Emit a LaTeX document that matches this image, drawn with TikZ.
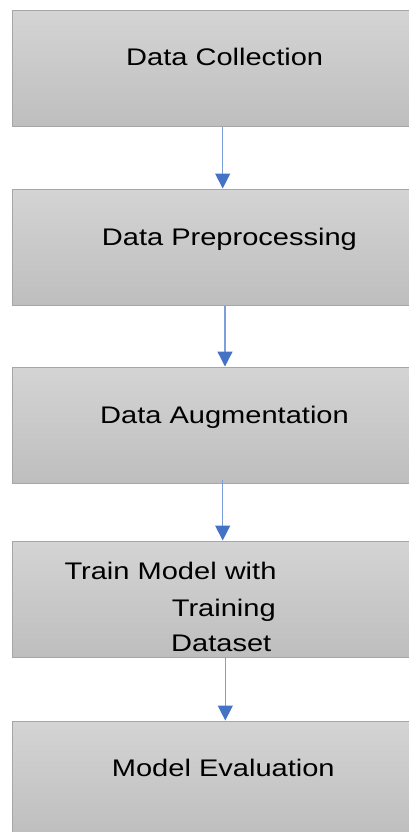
\documentclass[tikz,border=0pt]{standalone}
\usepackage{fontspec}
\newfontfamily\boxfont[FakeStretch=1.21]{Liberation Sans}
\usetikzlibrary{arrows.meta}
\definecolor{boxtop}{HTML}{D4D4D4}
\definecolor{boxbot}{HTML}{BEBEBE}
\definecolor{boxline}{HTML}{A6A6A6}
\definecolor{flowline}{HTML}{7C9FDC}
\definecolor{flowhead}{HTML}{4472C4}
\begin{document}
\begin{tikzpicture}[x=1pt, y=-1pt]
    \tikzset{box/.style={draw=boxline, line width=1pt, top color=boxtop, bottom color=boxbot,
        minimum width=423pt, minimum height=116pt, inner sep=0pt}};
    \tikzset{lbl/.style={font=\boxfont\fontsize{24}{29}\selectfont, anchor=base west, inner sep=0pt}};
    \tikzset{flow/.style={draw=flowline, line width=1.3pt,
        -{Triangle[length=15pt, width=15pt, color=flowhead]}}};

    \useasboundingbox (0, 0) rectangle (409, 832);
    \clip (0, 0) rectangle (409, 832);

    % Boxes
    \node [box] (b1) at (224, 69) {};
    \node [box] (b2) at (224, 247) {};
    \node [box] (b3) at (224, 425) {};
    \node [box] (b4) at (224, 599) {};
    \node [box] (b5) at (224, 779) {};

    % Arrows
    \foreach \i/\j/\dx/\dy in {1/2/-1.3/0, 2/3/1/0, 3/4/-1.3/4, 4/5/1.3/0} {
        \draw [flow] ([xshift=\dx pt, yshift=\dy pt]b\i.south) -- ([xshift=\dx pt]b\j.north);
    }

    % Labels
    \node [lbl] (t1) at (126, 65.7) {Data Collection};
    \node [lbl] (t2) at (101.7, 245) {Data Preprocessing};
    \node [lbl] (t3) at (100, 423.3) {Data Augmentation};
    \node [lbl] (t4a) at (64.3, 579) {Train Model with};
    \node [lbl] (t4b) at (171.7, 616) {Training};
    \node [lbl] (t4c) at (171, 651) {Dataset};
    \node [lbl] (t5) at (111.7, 776.7) {Model Evaluation};
\end{tikzpicture}
\end{document}
